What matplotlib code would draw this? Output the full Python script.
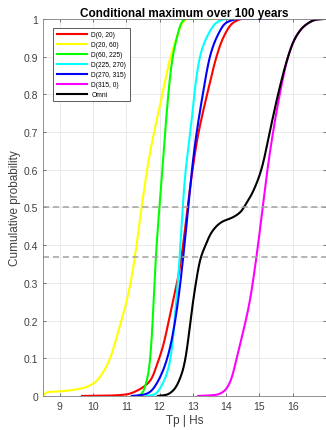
import matplotlib
matplotlib.use("Agg")
import matplotlib.pyplot as plt
import numpy as np

# curves (x = Tp, y = cumulative probability)
red_x = [9.67, 10.5, 11.0, 11.41, 11.76, 11.91, 12.11, 12.33, 12.55, 12.66, 12.71, 12.84, 12.99, 13.13, 13.27, 13.43, 13.71, 13.91, 14.21, 14.51, 14.8]
red_y = [0.0, 0.001, 0.004, 0.018, 0.045, 0.08, 0.133, 0.222, 0.31, 0.368, 0.4, 0.5, 0.6, 0.68, 0.74, 0.8, 0.9, 0.95, 0.99, 1.0, 1.0]

yellow_x = [8.5, 8.6, 9.0, 9.61, 10.0, 10.42, 10.81, 11.11, 11.26, 11.46, 11.7, 11.9, 12.11, 12.33, 12.5, 12.65, 12.81, 13.75]
yellow_y = [0.0, 0.01, 0.012, 0.019, 0.032, 0.08, 0.186, 0.29, 0.368, 0.5, 0.64, 0.725, 0.81, 0.9, 0.946, 0.985, 1.0, 1.0]

green_x = [11.35, 11.5, 11.6, 11.71, 11.8, 11.86, 11.92, 12.0, 12.13, 12.26, 12.39, 12.52, 12.65, 12.76, 13.36]
green_y = [0.0, 0.008, 0.035, 0.08, 0.2, 0.33, 0.42, 0.5, 0.655, 0.8, 0.9, 0.95, 0.99, 1.0, 1.0]

cyan_x = [11.6, 11.86, 12.01, 12.16, 12.29, 12.39, 12.47, 12.56, 12.61, 12.63, 12.69, 12.78, 12.86, 12.93, 13.04, 13.21, 13.41, 13.71, 14.0, 14.5]
cyan_y = [0.0, 0.004, 0.019, 0.045, 0.08, 0.133, 0.222, 0.31, 0.368, 0.4, 0.5, 0.6, 0.655, 0.7, 0.8, 0.9, 0.95, 0.99, 1.0, 1.0]

blue_x = [11.17, 11.5, 11.71, 11.81, 11.99, 12.16, 12.33, 12.51, 12.64, 12.71, 12.75, 12.86, 12.96, 13.06, 13.15, 13.28, 13.51, 13.71, 14.0, 14.41, 15.37]
blue_y = [0.0, 0.003, 0.01, 0.019, 0.045, 0.08, 0.133, 0.222, 0.31, 0.368, 0.4, 0.5, 0.59, 0.665, 0.72, 0.79, 0.9, 0.95, 0.99, 1.0, 1.0]

magenta_x = [13.16, 13.71, 13.96, 14.16, 14.31, 14.51, 14.71, 14.91, 15.1, 15.24, 15.41, 15.61, 15.86, 16.06, 16.36, 16.71, 17.0]
magenta_y = [0.0, 0.003, 0.014, 0.045, 0.098, 0.17, 0.25, 0.368, 0.5, 0.6, 0.7, 0.8, 0.9, 0.947, 0.982, 0.998, 1.0]

omni_x = [11.95, 12.21, 12.46, 12.61, 12.74, 12.84, 12.96, 13.11, 13.21, 13.36, 13.56, 13.86, 14.21, 14.46, 14.6, 14.71, 15.06, 15.31, 15.56, 15.86, 16.06, 16.36, 16.71, 17.0]
omni_y = [0.0, 0.003, 0.019, 0.045, 0.08, 0.133, 0.222, 0.31, 0.36, 0.395, 0.434, 0.461, 0.474, 0.49, 0.51, 0.525, 0.6, 0.7, 0.8, 0.9, 0.947, 0.982, 0.998, 1.0]

labels = ['D(0, 20)', 'D(20, 60)', 'D(60, 225)', 'D(225, 270)', 'D(270, 315)', 'D(315, 0)', 'Omni']
colors = ['#ff0000', '#ffff00', '#00ff00', '#00ffff', '#0000ff', '#ff00ff', '#000000']
series = [(red_x, red_y), (yellow_x, yellow_y), (green_x, green_y), (cyan_x, cyan_y),
          (blue_x, blue_y), (magenta_x, magenta_y), (omni_x, omni_y)]

ref_levels = [0.5, np.exp(-1)]


def smooth(xs, ys, step=0.004, sigma=0.05):
    # monotone cubic through the read-off points, then a light gaussian blur
    # so small reading errors don't show up as kinks
    xs = np.asarray(xs, float)
    ys = np.asarray(ys, float)
    h = np.diff(xs)
    d = np.diff(ys) / h
    m = np.zeros_like(xs)
    m[0], m[-1] = d[0], d[-1]
    for k in range(1, len(xs) - 1):
        if d[k - 1] * d[k] <= 0:
            m[k] = 0
        else:
            w1 = 2 * h[k] + h[k - 1]
            w2 = h[k] + 2 * h[k - 1]
            m[k] = (w1 + w2) / (w1 / d[k - 1] + w2 / d[k])
    xx = np.arange(xs[0], xs[-1] + step / 2, step)
    idx = np.clip(np.searchsorted(xs, xx) - 1, 0, len(xs) - 2)
    t = (xx - xs[idx]) / h[idx]
    h00 = 2 * t**3 - 3 * t**2 + 1
    h10 = t**3 - 2 * t**2 + t
    h01 = -2 * t**3 + 3 * t**2
    h11 = t**3 - t**2
    yy = h00 * ys[idx] + h10 * h[idx] * m[idx] + h01 * ys[idx + 1] + h11 * h[idx] * m[idx + 1]

    r = int(3 * sigma / step)
    kern = np.exp(-0.5 * (np.arange(-r, r + 1) * step / sigma) ** 2)
    kern /= kern.sum()
    pad = np.concatenate([np.full(r, yy[0]), yy, np.full(r, yy[-1])])
    ys_s = np.convolve(pad, kern, mode='valid')
    ys_s[0] = ys[0]
    return xx, np.clip(ys_s, 0, 1)


plt.rcParams['font.family'] = ['Liberation Sans', 'DejaVu Sans']

fig = plt.figure(figsize=(3.26, 4.31), dpi=100)
ax = fig.add_axes([0.132, 0.079, 0.868, 0.875])

for (xs, ys), c, lab in zip(series, colors, labels):
    xx, yy = smooth(xs, ys)
    ax.plot(xx, yy, color=c, lw=1.5, label=lab)

for lv in ref_levels:
    ax.axhline(lv, color='#a0a0a0', ls=(0, (4, 2.5)), lw=1.1)

ax.set_xlim(8.5, 17)
ax.set_ylim(0, 1)
ax.set_xticks(range(9, 17))
ax.set_yticks(np.arange(0, 1.01, 0.1))
ax.set_yticklabels(['0', '0.1', '0.2', '0.3', '0.4', '0.5', '0.6', '0.7', '0.8', '0.9', '1'])
ax.grid(True, color='#e6e6e6', lw=0.6)
ax.set_axisbelow(True)
for s in ax.spines.values():
    s.set_color('#808080')
    s.set_linewidth(0.6)
ax.tick_params(labelsize=7.5, colors='#404040', length=2.5, width=0.5, direction='in', top=True, right=True)

ax.set_title('Conditional maximum over 100 years', fontsize=8.5, fontweight='bold', pad=2)
ax.set_xlabel('Tp | Hs', fontsize=8.5, color='#404040', labelpad=2)
ax.set_ylabel('Cumulative probability', fontsize=8.5, color='#404040', labelpad=2)

leg = ax.legend(loc='upper left', fontsize=4.8, handlelength=4.6, handletextpad=0.6,
                labelspacing=0.45, borderpad=0.5, fancybox=False, framealpha=1,
                edgecolor='#404040', bbox_to_anchor=(0.025, 0.985))
leg.get_frame().set_linewidth(0.6)

fig.savefig('out.png', dpi=100)
